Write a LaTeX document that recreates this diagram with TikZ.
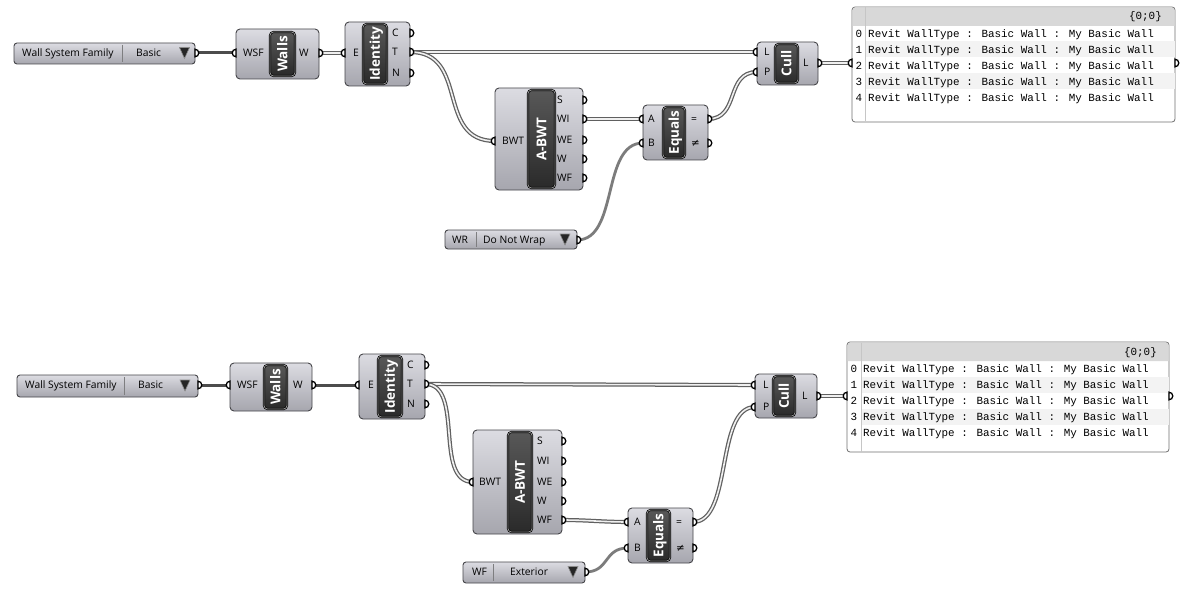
\documentclass[tikz,border=0pt]{standalone}
\usepackage{fontspec}
\setmainfont{Open Sans}
\newfontfamily\monofont{Liberation Mono}
\newfontfamily\symfont{DejaVu Sans}
\usetikzlibrary{calc}

\definecolor{compTop}{HTML}{DCDCE2}
\definecolor{compBot}{HTML}{A6A6AE}
\definecolor{compEdge}{HTML}{46464A}
\definecolor{capTop}{HTML}{585858}
\definecolor{capBot}{HTML}{2A2A2A}
\definecolor{wireDark}{HTML}{4C4C4C}
\definecolor{wireMid}{HTML}{7C7C7C}
\definecolor{listWire}{HTML}{606060}
\definecolor{panelEdge}{HTML}{707070}
\definecolor{panelHead}{HTML}{D8D8D8}
\definecolor{panelRow}{HTML}{F3F3F3}

% grips: half circles sitting on the edge of a component
\newcommand\gripIn[1]{\draw[grip] (#1) ++(0,3.8) arc[start angle=90,end angle=270,radius=3.8] -- cycle;}
\newcommand\gripOut[1]{\draw[grip] (#1) ++(0,3.8) arc[start angle=90,end angle=-90,radius=3.8] -- cycle;}

\begin{document}
\begin{tikzpicture}[x=1pt,y=-1pt,
  comp/.style={draw=compEdge, line width=0.9pt, rounded corners=4pt,
    top color=compTop, bottom color=compBot, anchor=north west,
    inner sep=0pt, outer sep=0pt},
  vlist/.style={comp, rounded corners=3pt},
  capsule/.style={draw=black, line width=0.7pt, double=gray!75, double distance=0.7pt,
    rounded corners=3.5pt,
    top color=capTop, bottom color=capBot, anchor=north west,
    inner sep=0pt, outer sep=0pt},
  caplabel/.style={text=white, rotate=90, inner sep=0pt,
    font=\fontsize{13.5}{13.5}\selectfont\bfseries, text height=9.6pt, text depth=0pt},
  plabel/.style={anchor=base west, inner sep=0pt, font=\fontsize{10.3}{10.3}\selectfont},
  mono/.style={anchor=base west, inner sep=0pt, font=\fontsize{10.9}{10.9}\monofont},
  idx/.style={anchor=base, inner sep=0pt, font=\fontsize{10.9}{10.9}\monofont},
  panel/.style={draw=panelEdge, line width=0.8pt, fill=white, rounded corners=3pt,
    anchor=north west, inner sep=0pt, outer sep=0pt},
  grip/.style={draw=black, line width=1.3pt, fill=white},
  tri/.style={fill=black!85, draw=black!45, line width=0.6pt},
  divider/.style={draw=compEdge!70, line width=0.6pt},
  itemwire/.style={draw=wireDark, line width=3pt, line cap=round},
  itemwirelight/.style={draw=wireMid, line width=2.8pt, line cap=round},
  listwire/.style={draw=listWire, line width=1.25pt, double=white!88!gray, double distance=1.6pt}
]
\useasboundingbox (0,0) rectangle (1189,591);
\fill[white] (0,0) rectangle (1189,591);

% ================= upper graph: grip coordinates =================
\coordinate (vl1-out) at (195,53);
\coordinate (wa1-in)  at (236,53);
\coordinate (wa1-out) at (319,53);
\coordinate (id1-in)  at (345,53);
\coordinate (id1-C)   at (410,33);
\coordinate (id1-T)   at (410,52);
\coordinate (id1-N)   at (410,73);
\coordinate (bw1-in)  at (495,141);
\coordinate (bw1-S)   at (583,100);
\coordinate (bw1-WI)  at (583,119);
\coordinate (bw1-WE)  at (583,140);
\coordinate (bw1-W)   at (583,159);
\coordinate (bw1-WF)  at (583,178);
\coordinate (eq1-A)   at (643,119);
\coordinate (eq1-B)   at (643,143);
\coordinate (eq1-eq)  at (708,119);
\coordinate (eq1-ne)  at (708,143);
\coordinate (wr-out)  at (577,240);
\coordinate (cu1-L)   at (757,52);
\coordinate (cu1-P)   at (757,72);
\coordinate (cu1-out) at (818,63);
\coordinate (pn1-in)  at (852,63);
\coordinate (pn1-out) at (1175,63);

% ================= lower graph: grip coordinates =================
\coordinate (vl2-out) at (198,385);
\coordinate (wa2-in)  at (230,385);
\coordinate (wa2-out) at (312,385);
\coordinate (id2-in)  at (359,385);
\coordinate (id2-C)   at (425,365);
\coordinate (id2-T)   at (425,384);
\coordinate (id2-N)   at (425,404);
\coordinate (bw2-in)  at (473,482);
\coordinate (bw2-S)   at (562,441);
\coordinate (bw2-WI)  at (562,461);
\coordinate (bw2-WE)  at (562,482);
\coordinate (bw2-W)   at (562,501);
\coordinate (bw2-WF)  at (562,520);
\coordinate (eq2-A)   at (628,522);
\coordinate (eq2-B)   at (628,548);
\coordinate (eq2-eq)  at (693,522);
\coordinate (eq2-ne)  at (693,548);
\coordinate (wf-out)  at (585,572);
\coordinate (cu2-L)   at (755,385);
\coordinate (cu2-P)   at (755,407);
\coordinate (cu2-out) at (817,396);
\coordinate (pn2-in)  at (847,396);
\coordinate (pn2-out) at (1169,396);

% ================= wires =================
\draw[itemwire] (vl1-out) -- (wa1-in);
\draw[listwire] (wa1-out) -- (id1-in);
\draw[listwire] (id1-T) -- (cu1-L);
\draw[listwire] (id1-T) .. controls +(60,0) and +(-60,0) .. (bw1-in);
\draw[listwire] (bw1-WI) -- (eq1-A);
\draw[listwire] (eq1-eq) .. controls +(32,0) and +(-32,0) .. (cu1-P);
\draw[itemwirelight] (wr-out) .. controls +(42,0) and +(-42,0) .. (eq1-B);
\draw[listwire] (cu1-out) -- (pn1-in);

\draw[itemwire] (vl2-out) -- (wa2-in);
\draw[itemwire] (wa2-out) -- (id2-in);
\draw[listwire] (id2-T) -- (cu2-L);
\draw[listwire] (id2-T) .. controls +(40,0) and +(-40,0) .. (bw2-in);
\draw[listwire] (bw2-WF) .. controls +(25,0) and +(-25,0) .. (eq2-A);
\draw[listwire] (eq2-eq) .. controls +(40,0) and +(-40,0) .. (cu2-P);
\draw[itemwirelight] (wf-out) .. controls +(25,0) and +(-25,0) .. (eq2-B);
\draw[listwire] (cu2-out) -- (pn2-in);

% ================= upper graph: components =================
% value list "Wall System Family"
\node[vlist, minimum width=181, minimum height=21] (vl1) at (14,43) {};
\draw[divider] (122,45) -- (122,62);
\draw[tri] (179.5,47.5) -- (189.5,47.5) -- (184.5,58.5) -- cycle;
\node[plabel] (vl1-t) at (22,56.8) {Wall System Family};
\node[plabel] (vl1-v) at (136,56.8) {Basic};

% Walls
\node[comp, minimum width=83, minimum height=50] (wa1) at (236,29) {};
\node[capsule, minimum width=25, minimum height=44] (wa1-cap) at (270,32) {};
\node[caplabel] (wa1-name) at (wa1-cap.center) {Walls};
\node[plabel] (wa1-l1) at (243,56.8) {WSF};
\node[plabel] (wa1-l2) at (299,56.8) {W};

% Identity
\node[comp, minimum width=65, minimum height=64] (id1) at (345,22) {};
\node[capsule, minimum width=24, minimum height=60] (id1-cap) at (363,24) {};
\node[caplabel] (id1-name) at (id1-cap.center) {Identity};
\node[plabel] (id1-l1) at (353,56.8) {E};
\node[plabel] (id1-l2) at (392,36.8) {C};
\node[plabel] (id1-l3) at (392,55.8) {T};
\node[plabel] (id1-l4) at (392,76.8) {N};

% A-BWT
\node[comp, minimum width=88, minimum height=102] (bw1) at (495,88) {};
\node[capsule, minimum width=27, minimum height=98] (bw1-cap) at (528,90) {};
\node[caplabel] (bw1-name) at (bw1-cap.center) {A-BWT};
\node[plabel] (bw1-l0) at (502,144.8) {BWT};
\node[plabel] (bw1-l1) at (557,103.8) {S};
\node[plabel] (bw1-l2) at (557,122.8) {WI};
\node[plabel] (bw1-l3) at (557,143.8) {WE};
\node[plabel] (bw1-l4) at (557,162.8) {W};
\node[plabel] (bw1-l5) at (557,181.8) {WF};

% Equals
\node[comp, minimum width=65, minimum height=55] (eq1) at (643,105) {};
\node[capsule, minimum width=22, minimum height=51] (eq1-cap) at (663,107) {};
\node[caplabel] (eq1-name) at (eq1-cap.center) {Equals};
\node[plabel] (eq1-l1) at (648,122.8) {A};
\node[plabel] (eq1-l2) at (648,146.8) {B};
\node[plabel] (eq1-l3) at (691,122.8) {=};
\node[plabel] (eq1-l4) at (691,146.8) {\symfont ≠};

% value list "Do Not Wrap"
\node[vlist, minimum width=132, minimum height=19] (wr) at (445,230) {};
\draw[divider] (476,232) -- (476,247);
\draw[tri] (560,234) -- (570,234) -- (565,245) -- cycle;
\node[plabel] (wr-t) at (452,243.8) {WR};
\node[plabel] (wr-v) at (483,243.8) {Do Not Wrap};

% Cull
\node[comp, minimum width=61, minimum height=43] (cu1) at (757,42) {};
\node[capsule, minimum width=23, minimum height=39] (cu1-cap) at (775,44) {};
\node[caplabel] (cu1-name) at (cu1-cap.center) {Cull};
\node[plabel] (cu1-l1) at (764,55.8) {L};
\node[plabel] (cu1-l2) at (764,75.8) {P};
\node[plabel] (cu1-l3) at (803,66.8) {L};

% panel
\node[panel, minimum width=323, minimum height=115] (pn1) at (852,7) {};
\fill[panelHead, rounded corners=2.5pt] (852.5,26) -- (852.5,7.5) -- (1174.5,7.5) -- (1174.5,26);
\fill[panelRow] (865,41.5) rectangle (1174.5,57.5);
\fill[panelRow] (865,73.5) rectangle (1174.5,89.5);
\draw[gray!45, line width=0.6pt] (865,7.5) -- (865,121.5);
\node[mono, anchor=base east] (pn1-h) at (1162,20) {\{0;0\}};
\foreach \i in {0,...,4}{
  \node[idx] (pn1-i\i) at (859,37.1+16*\i) {\i};
  \node[mono] (pn1-r\i) at (868,37.1+16*\i) {Revit WallType : Basic Wall : My Basic Wall};
}

% ================= lower graph: components =================
\node[vlist, minimum width=181, minimum height=22] (vl2) at (17,375) {};
\draw[divider] (124,377) -- (124,395);
\draw[tri] (180,380) -- (190,380) -- (185,391) -- cycle;
\node[plabel] (vl2-t) at (25,388.8) {Wall System Family};
\node[plabel] (vl2-v) at (138,388.8) {Basic};

\node[comp, minimum width=82, minimum height=48] (wa2) at (230,363) {};
\node[capsule, minimum width=23, minimum height=44] (wa2-cap) at (264,365) {};
\node[caplabel] (wa2-name) at (wa2-cap.center) {Walls};
\node[plabel] (wa2-l1) at (237,388.8) {WSF};
\node[plabel] (wa2-l2) at (293,388.8) {W};

\node[comp, minimum width=66, minimum height=65] (id2) at (359,354) {};
\node[capsule, minimum width=24, minimum height=61] (id2-cap) at (378,356) {};
\node[caplabel] (id2-name) at (id2-cap.center) {Identity};
\node[plabel] (id2-l1) at (368,388.8) {E};
\node[plabel] (id2-l2) at (407,368.8) {C};
\node[plabel] (id2-l3) at (407,387.8) {T};
\node[plabel] (id2-l4) at (407,407.8) {N};

\node[comp, minimum width=89, minimum height=104] (bw2) at (473,430) {};
\node[capsule, minimum width=24, minimum height=100] (bw2-cap) at (508,432) {};
\node[caplabel] (bw2-name) at (bw2-cap.center) {A-BWT};
\node[plabel] (bw2-l0) at (479,485.8) {BWT};
\node[plabel] (bw2-l1) at (537,444.8) {S};
\node[plabel] (bw2-l2) at (537,464.8) {WI};
\node[plabel] (bw2-l3) at (537,485.8) {WE};
\node[plabel] (bw2-l4) at (537,504.8) {W};
\node[plabel] (bw2-l5) at (537,523.8) {WF};

\node[comp, minimum width=65, minimum height=55] (eq2) at (628,508) {};
\node[capsule, minimum width=23, minimum height=51] (eq2-cap) at (647,510) {};
\node[caplabel] (eq2-name) at (eq2-cap.center) {Equals};
\node[plabel] (eq2-l1) at (634,525.8) {A};
\node[plabel] (eq2-l2) at (634,551.8) {B};
\node[plabel] (eq2-l3) at (676,525.8) {=};
\node[plabel] (eq2-l4) at (676,551.8) {\symfont ≠};

\node[vlist, minimum width=122, minimum height=21] (wf) at (463,562) {};
\draw[divider] (493,564) -- (493,581);
\draw[tri] (568,566.5) -- (578,566.5) -- (573,577.5) -- cycle;
\node[plabel] (wf-t) at (472,575.8) {WF};
\node[plabel] (wf-v) at (510,575.8) {Exterior};

\node[comp, minimum width=62, minimum height=44] (cu2) at (755,374) {};
\node[capsule, minimum width=22, minimum height=40] (cu2-cap) at (773,376) {};
\node[caplabel] (cu2-name) at (cu2-cap.center) {Cull};
\node[plabel] (cu2-l1) at (763,388.8) {L};
\node[plabel] (cu2-l2) at (763,410.8) {P};
\node[plabel] (cu2-l3) at (802,399.8) {L};

\node[panel, minimum width=322, minimum height=110] (pn2) at (847,342) {};
\fill[panelHead, rounded corners=2.5pt] (847.5,361) -- (847.5,342.5) -- (1168.5,342.5) -- (1168.5,361);
\fill[panelRow] (861,377) rectangle (1168.5,393);
\fill[panelRow] (861,409) rectangle (1168.5,425);
\draw[gray!45, line width=0.6pt] (861,342.5) -- (861,451.5);
\node[mono, anchor=base east] (pn2-h) at (1157,355) {\{0;0\}};
\foreach \i in {0,...,4}{
  \node[idx] (pn2-i\i) at (854,372.6+16*\i) {\i};
  \node[mono] (pn2-r\i) at (863,372.6+16*\i) {Revit WallType : Basic Wall : My Basic Wall};
}

% ================= grips =================
\gripOut{vl1-out}
\gripIn{wa1-in} \gripOut{wa1-out}
\gripIn{id1-in} \gripOut{id1-C} \gripOut{id1-T} \gripOut{id1-N}
\gripIn{bw1-in}
\foreach \p in {S,WI,WE,W,WF}{\gripOut{bw1-\p}}
\gripIn{eq1-A} \gripIn{eq1-B} \gripOut{eq1-eq} \gripOut{eq1-ne}
\gripOut{wr-out}
\gripIn{cu1-L} \gripIn{cu1-P} \gripOut{cu1-out}
\gripIn{pn1-in} \gripOut{pn1-out}

\gripOut{vl2-out}
\gripIn{wa2-in} \gripOut{wa2-out}
\gripIn{id2-in} \gripOut{id2-C} \gripOut{id2-T} \gripOut{id2-N}
\gripIn{bw2-in}
\foreach \p in {S,WI,WE,W,WF}{\gripOut{bw2-\p}}
\gripIn{eq2-A} \gripIn{eq2-B} \gripOut{eq2-eq} \gripOut{eq2-ne}
\gripOut{wf-out}
\gripIn{cu2-L} \gripIn{cu2-P} \gripOut{cu2-out}
\gripIn{pn2-in} \gripOut{pn2-out}
\end{tikzpicture}
\end{document}
